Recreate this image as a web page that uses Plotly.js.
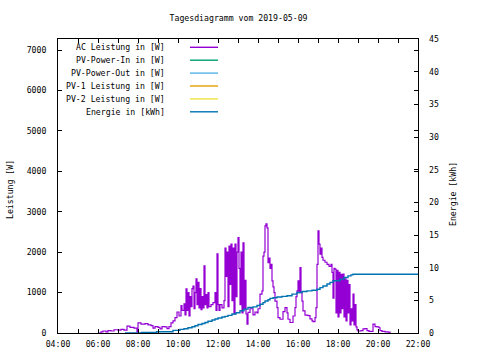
<!DOCTYPE html>
<html>
<head>
<meta charset="utf-8">
<script src="https://cdn.plot.ly/plotly-3.0.1.min.js"></script>
<style>html,body{margin:0;padding:0;background:#fff;}#chart{width:480px;height:360px;}</style>
</head>
<body>
<div id="chart"></div>
<script>
var day = "2019-05-09";
var titleText = "Tagesdiagramm vom 2019-05-09";

var acTimes = ["06:00","06:09","06:15","06:24","06:30","06:39","06:48","07:00","07:09","07:18","07:27","07:36","07:48","07:57",
"08:00","08:09","08:21","08:30","08:39","08:45","08:51","09:00","09:06","09:12","09:21","09:27","09:33","09:39","09:45","09:51","09:57",
"10:03","10:09","10:12","10:18","10:21","10:24","10:27","10:30","10:33","10:36","10:39","10:42","10:45","10:48","10:51","10:54","10:57",
"11:00","11:03","11:06","11:09","11:12","11:15","11:18","11:21","11:24","11:27","11:30","11:33","11:39","11:45","11:51","11:54","11:57",
"12:00","12:03","12:06","12:12","12:18","12:21","12:24","12:27","12:30","12:33","12:36","12:39","12:42","12:45","12:48","12:51","12:54","12:57",
"13:00","13:03","13:06","13:09","13:12","13:15","13:18","13:21","13:24","13:27","13:30","13:36","13:42","13:45","13:51","13:57",
"14:00","14:06","14:12","14:15","14:18","14:21","14:24","14:27","14:30","14:33","14:36","14:39","14:42","14:45","14:48","14:51","14:57",
"15:00","15:06","15:12","15:15","15:21","15:27","15:30","15:36","15:42","15:45","15:51","15:54","15:57",
"16:00","16:03","16:06","16:09","16:12","16:15","16:21","16:30","16:36","16:42","16:45","16:51","16:54","16:57",
"17:00","17:03","17:06","17:09","17:12","17:15","17:21","17:27","17:33","17:39","17:42","17:45","17:48","17:51","17:54","17:57",
"18:00","18:03","18:06","18:09","18:12","18:15","18:18","18:21","18:24","18:27","18:30","18:33","18:36","18:39","18:42","18:45","18:48","18:51","18:54","18:57",
"19:00","19:09","19:15","19:21","19:27","19:33","19:42","19:45","19:51","19:57","20:03","20:06","20:12","20:21","20:30","20:36"];
var acPower = [0,30,50,30,60,50,80,70,90,70,170,140,120,30,
250,220,230,200,180,120,160,140,100,160,150,110,160,250,300,380,520,
420,680,560,720,450,1090,560,1000,420,900,650,1100,1160,600,1000,1340,700,
1250,620,1100,580,900,620,1660,700,950,620,1000,650,700,750,1000,560,1960,
700,560,700,620,800,2100,1400,2000,650,2150,1200,2200,800,2100,470,2200,900,2000,
2360,1600,700,2000,500,2230,600,1300,470,220,510,600,600,450,520,500,
600,960,1040,1900,2000,2650,2700,2600,1740,1850,1600,1700,1290,1140,1000,790,630,
380,340,340,530,630,500,340,260,260,420,630,900,1040,
1290,1000,1620,1000,790,545,440,430,350,300,280,380,630,1700,
2530,2200,1950,2100,1870,1800,1750,1700,1650,1700,1500,860,1600,1580,500,1550,
400,1500,500,1450,600,1460,400,1340,300,1300,500,1200,200,600,300,960,200,700,150,75,
50,60,100,110,60,40,40,220,160,150,130,60,40,30,20,0];

var enTimes = ["07:21","08:11","08:56","09:45","10:06","10:18","10:30","10:42","10:51","11:00","11:12","11:21","11:30","11:42","11:51","12:00",
"12:12","12:21","12:30","12:42","12:54","13:06","13:18","13:30","13:45","13:57","14:06","14:15","14:21","14:30","14:36","14:45","14:57",
"15:12","15:27","15:42","15:57","16:12","16:27","16:42","16:57","17:06","17:15","17:27","17:36","17:45","18:06","18:18","18:30","18:39","18:45","22:00"];
var enKWh = [0,0.1,0.2,0.4,0.55,0.65,0.8,0.95,1.1,1.3,1.45,1.6,1.8,2.0,2.15,2.3,
2.45,2.55,2.7,2.9,3.1,3.4,3.65,3.9,4.0,4.2,4.4,4.65,4.9,5.1,5.3,5.4,5.5,
5.6,5.7,5.95,6.2,6.35,6.45,6.55,6.7,6.95,7.2,7.5,7.75,8.0,8.25,8.5,8.75,8.9,9.0,9.0];

var legendNames = ["AC Leistung in [W]","PV-Power-In in [W]","PV-Power-Out in [W]","PV-1 Leistung in [W]","PV-2 Leistung in [W]","Energie in [kWh]"];
var legendColors = ["#9400D3","#009E73","#56B4E9","#E69F00","#F0E442","#0072B2"];

var yLeftTicks = [0,1000,2000,3000,4000,5000,6000,7000];
var yRightTicks = [0,5,10,15,20,25,30,35,40,45];

function toDate(t){ return day + " " + t; }

var FONT = "DejaVu Sans Mono, monospace";
var FS = 8.2;

var traces = [
  {x: acTimes.map(toDate), y: acPower, type: "scatter", mode: "lines",
   line: {color: legendColors[0], width: 1.2, shape: "hv"}, yaxis: "y", showlegend: false},
  {x: enTimes.map(toDate), y: enKWh, type: "scatter", mode: "lines",
   line: {color: legendColors[5], width: 1.4, shape: "hv"}, yaxis: "y2", showlegend: false}
];

var L = 58, R = 418, T = 39, B = 333;
var W = R - L, H = B - T;
function px(x){ return (x - L) / W; }
function py(y){ return (B - y) / H; }

var annotations = [
  {text: "Leistung [W]", xref: "paper", yref: "paper", x: px(10), y: py(190), textangle: -90,
   showarrow: false, font: {family: FONT, size: FS, color: "#000"}, xanchor: "center", yanchor: "middle"},
  {text: "Energie [kWh]", xref: "paper", yref: "paper", x: px(453), y: py(194), textangle: -90,
   showarrow: false, font: {family: FONT, size: FS, color: "#000"}, xanchor: "center", yanchor: "middle"}
];
var shapes = [];
var rowY0 = 47.3, rowDY = 12.9;
for (var i = 0; i < legendNames.length; i++) {
  var yy = rowY0 + i * rowDY;
  annotations.push({text: legendNames[i], xref: "paper", yref: "paper", x: px(167), y: py(yy),
    xanchor: "right", yanchor: "middle", showarrow: false, font: {family: FONT, size: FS, color: "#000"}});
  shapes.push({type: "line", xref: "paper", yref: "paper", x0: px(190), x1: px(218), y0: py(yy), y1: py(yy),
    line: {color: legendColors[i], width: 1.4}});
}

var layout = {
  width: 480, height: 360,
  margin: {l: L, r: 480 - R, t: T, b: 360 - B, pad: 0},
  paper_bgcolor: "#fff", plot_bgcolor: "#fff",
  showlegend: false,
  title: {text: titleText, x: 0.497, xanchor: "center", y: 1 - 18/360, yanchor: "middle",
          font: {family: FONT, size: FS, color: "#000"}},
  font: {family: FONT, size: FS, color: "#000"},
  xaxis: {type: "date", range: [toDate("04:00"), toDate("22:00")], tickformat: "%H:%M",
          tick0: toDate("04:00"), dtick: 7200000, ticks: "inside", ticklen: 4, tickcolor: "#000",
          minor: {dtick: 3600000, ticks: "inside", ticklen: 3, tickcolor: "#000"},
          showline: true, linecolor: "#000", linewidth: 1, mirror: "allticks", showgrid: false,
          zeroline: false, ticklabelstandoff: 3, tickfont: {family: FONT, size: FS}},
  yaxis: {range: [0, 7273], tickvals: yLeftTicks, ticks: "inside", ticklen: 4, tickcolor: "#000",
          showline: true, linecolor: "#000", linewidth: 1, mirror: "allticks", showgrid: false,
          zeroline: false, ticklabelstandoff: 9, tickfont: {family: FONT, size: FS}},
  yaxis2: {range: [0, 45], tickvals: yRightTicks, overlaying: "y", side: "right", ticks: "inside", ticklen: 4,
          tickcolor: "#000", showline: false, showgrid: false, zeroline: false, ticklabelstandoff: 10,
          tickfont: {family: FONT, size: FS}},
  annotations: annotations,
  shapes: shapes
};

Plotly.newPlot("chart", traces, layout, {staticPlot: true, displayModeBar: false});
</script>
</body>
</html>
